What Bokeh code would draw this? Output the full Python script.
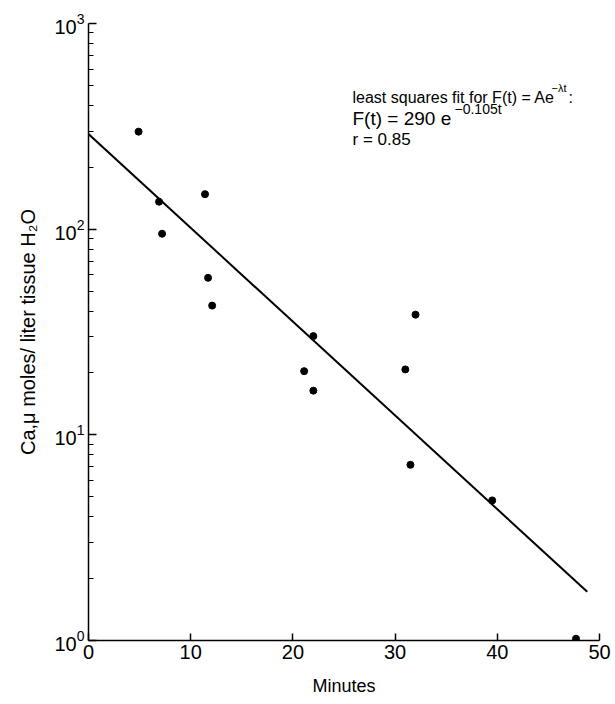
import numpy as np
from bokeh.plotting import figure
from bokeh.models import FixedTicker, Label
from bokeh.embed import file_html
from bokeh.resources import INLINE

# ---- data ----
minutes = [4.9, 6.9, 7.2, 11.4, 11.7, 12.1, 21.1, 22.0, 22.0, 31.0, 32.0, 31.5, 39.5, 47.7]
ca = [298, 136, 95, 148, 58, 42.5, 20.4, 30.2, 16.4, 20.8, 38.4, 7.15, 4.8, 1.02]

fit_A = 290.0
fit_lambda = 0.105
fit_t = [0.0, 48.8]

x_ticks = [0, 10, 20, 30, 40, 50]
y_ticks = [1, 10, 100, 1000]
y_minor = [m * d for d in (1, 10, 100) for m in range(2, 10)]

FONT = "Liberation Sans"
W, H = 615, 704
LEFT, RIGHT, TOP, BOTTOM = 88, 16, 23, 64

p = figure(width=W, height=H, x_range=(0, 50), y_range=(1, 1000), y_axis_type="log",
           output_backend="svg", toolbar_location=None,
           min_border_left=LEFT, min_border_right=RIGHT, min_border_top=TOP,
           min_border_bottom=BOTTOM)
p.outline_line_color = None
p.grid.grid_line_color = None
p.background_fill_color = "white"
p.border_fill_color = "white"

fit_y = [fit_A * np.exp(-fit_lambda * t) for t in fit_t]
p.line(fit_t, fit_y, line_color="black", line_width=2)
p.scatter(minutes, ca, size=7, color="black")

# axes
p.xaxis.ticker = FixedTicker(ticks=x_ticks, minor_ticks=[])
p.yaxis.ticker = FixedTicker(ticks=y_ticks, minor_ticks=y_minor)
for ax in (p.xaxis[0], p.yaxis[0]):
    ax.axis_line_color = "black"
    ax.axis_line_width = 1.5
    ax.major_tick_line_color = "black"
    ax.minor_tick_line_color = "black"
    ax.major_tick_line_width = 1.5
    ax.major_tick_out = 0
    ax.minor_tick_out = 0
    ax.major_label_text_font = FONT
    ax.major_label_text_color = "black"
    ax.major_label_text_font_size = "20px"
    ax.axis_label_text_font = FONT
    ax.axis_label_text_font_style = "normal"
    ax.axis_label_text_color = "black"

p.xaxis.major_tick_in = 7
p.xaxis.minor_tick_in = 0
p.xaxis.major_label_standoff = 4
p.xaxis.axis_label = "Minutes"
p.xaxis.axis_label_text_font_size = "18px"
p.xaxis.axis_label_standoff = 14

p.yaxis.major_tick_in = 8
p.yaxis.minor_tick_in = 5
p.yaxis.major_label_standoff = 4
p.yaxis.axis_label = "Ca,\u03bc moles/ liter tissue H\u2082O"
p.yaxis.axis_label_text_font_size = "20px"
p.yaxis.axis_label_standoff = 12

# annotation: page pixel positions -> frame-relative screen units
FRAME_BOTTOM = H - BOTTOM

def add_text(txt, px, py, size):
    p.add_layout(Label(x=px - LEFT, y=FRAME_BOTTOM - py, x_units="screen", y_units="screen",
                       text=txt, text_font=FONT, text_font_size=f"{size}px",
                       text_color="black", text_baseline="alphabetic", text_align="left"))

add_text("least squares fit for F(t) = Ae", 352, 97, 16)
add_text("\u2212\u03bbt", 551, 87, 11)
add_text(":", 568, 97, 16)
add_text("F(t) = 290 e", 352, 118, 19)
add_text("\u22120.105t", 454, 108, 14)
add_text("r = 0.85", 352, 139, 17)

open("out.html", "w").write(file_html(p, INLINE))
